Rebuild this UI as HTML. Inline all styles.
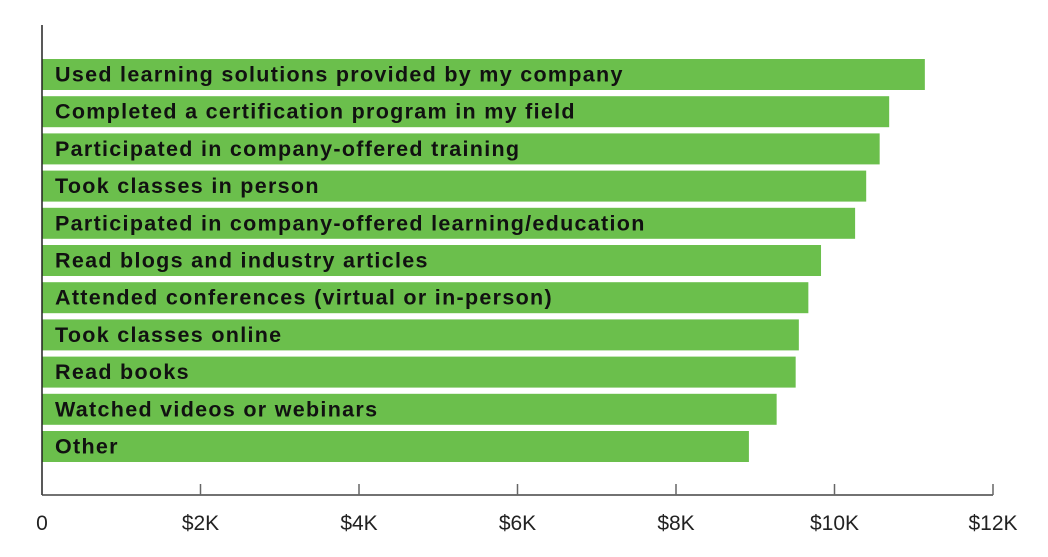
<!DOCTYPE html>
<html><head><meta charset="utf-8"><style>
body{margin:0;background:#fff;}
svg{display:block;font-family:"Liberation Sans",sans-serif;}
</style></head><body>
<svg id="c" width="1048" height="557"></svg>
<script>
const categories=["Used learning solutions provided by my company","Completed a certification program in my field","Participated in company-offered training","Took classes in person","Participated in company-offered learning/education","Read blogs and industry articles","Attended conferences (virtual or in-person)","Took classes online","Read books","Watched videos or webinars","Other"];
const values=[11.14,10.69,10.57,10.40,10.26,9.83,9.67,9.55,9.51,9.27,8.92];
const ticks=[0,2,4,6,8,10,12];
const tickLabels=["0","$2K","$4K","$6K","$8K","$10K","$12K"];
const NS="http://www.w3.org/2000/svg";
const svg=document.getElementById('c');
const x0=42,x1=993,xmax=12;
const xs=v=>x0+(v/xmax)*(x1-x0);
const top0=59,pitch=37.2,bh=31,baseY=495;
function mk(t,a){const e=document.createElementNS(NS,t);for(const k in a)e.setAttribute(k,a[k]);svg.appendChild(e);return e;}
categories.forEach((c,i)=>{
  const y=top0+i*pitch;
  const r=mk('rect',{x:x0,y:y,width:xs(values[i])-x0,height:bh,fill:'#6bbf4c'});
  
  
  const t=mk('text',{x:55,y:y+bh/2+7,'font-size':21.5,'font-weight':'bold',fill:'#111','letter-spacing':1.3});
  t.textContent=c;
  
  
});
const ya=mk('line',{x1:x0,y1:25,x2:x0,y2:baseY,stroke:'#222','stroke-width':1.5});


const xa=mk('line',{x1:x0,y1:baseY,x2:x1,y2:baseY,stroke:'#444','stroke-width':1.5});


ticks.forEach((v,i)=>{
  if(i>0){const tk=mk('line',{x1:xs(v),y1:484,x2:xs(v),y2:baseY,stroke:'#666','stroke-width':1.5});
  
  }
  const t=mk('text',{x:xs(v),y:530,'font-size':21,'text-anchor':'middle',fill:'#222'});
  t.textContent=tickLabels[i];
  
  
});
</script>
</body></html>
